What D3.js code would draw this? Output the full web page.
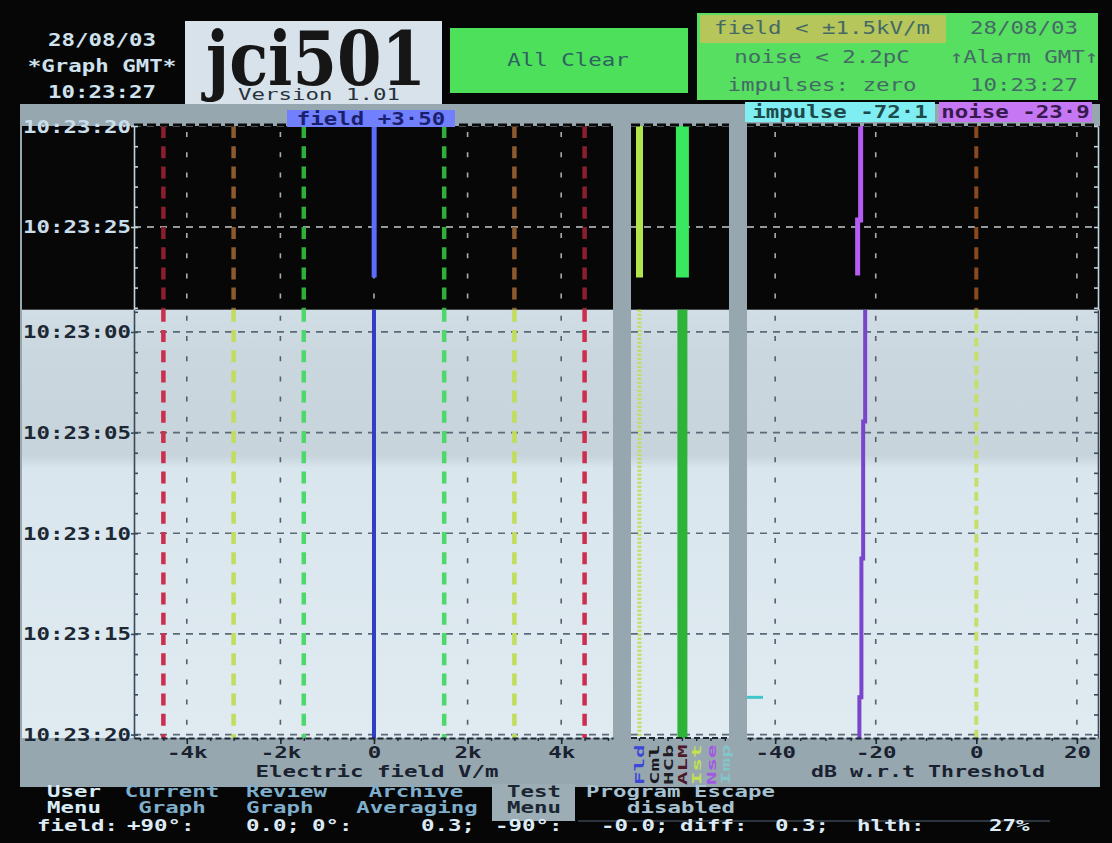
<!DOCTYPE html>
<html><head><meta charset="utf-8">
<script src="https://cdn.jsdelivr.net/npm/d3@7"></script>
<style>
html,body{margin:0;padding:0;background:#060606;}
svg{display:block}
text{white-space:pre}
</style></head><body>
<svg id="c" width="1112" height="843"></svg>
<script>
// ---------------- data ----------------
const graphDate = "28/08/03";
const graphTime = "10:23:27";
const fieldNow = 3.50;          // V/m
const impulseNow = -72.1;       // dB
const noiseNow = -23.9;         // dB
const fieldLimits = [1.5, 3.0, 4.5];            // kV/m threshold lines (±)
const fieldTicks = [-4, -2, 0, 2, 4];           // kV/m
const fieldTickLabels = ["-4k", "-2k", "0", "2k", "4k"];
const dbTicks = [-40, -20, 0, 20];
const dbThreshold = 0;
const timeTicksUpper = [20, 25];                 // seconds after 10:23:00
const timeLabelsUpper = ["10:23:20", "10:23:25"];
const timeTicksLower = [0, 5, 10, 15, 20];
const timeLabelsLower = ["10:23:00", "10:23:05", "10:23:10", "10:23:15", "10:23:20"];
const fieldUpper = [{t0: 20, t1: 27.5, v: 0.0035}];   // kV/m
const fieldLower = [{t0: -1.1, t1: 20.17, v: 0.0}];
const noiseUpper = [{t0: 20, t1: 24.65, v: -23.0}, {t0: 24.65, t1: 27.4, v: -23.6}];
const noiseLower = [{t0: -1.1, t1: 4.45, v: -22.1}, {t0: 4.45, t1: 11.25, v: -22.5},
                    {t0: 11.25, t1: 18.15, v: -22.85}, {t0: 18.15, t1: 20.17, v: -23.25}];
const impulseEvents = [{t: 18.15, v: -72.1}];
const statusCols = ["Fld", "Cml", "HCb", "ALM", "Ist", "Nse", "Imp"];
const statusColColors = ["#3b49d6", "#181820", "#1e1e26", "#4e1828", "#c2e052", "#a05ae0", "#7ad8da"];
const statusUpper = [{col: "Fld", t0: 20, t1: 27.5}, {col: "ALM", t0: 20, t1: 27.5}];
const statusLower = [{col: "Fld", t0: -1.1, t1: 20.17}, {col: "ALM", t0: -1.1, t1: 20.17}];
const headerLeft = [graphDate, "*Graph GMT*", graphTime];
const alarmCol1 = ["field < ±1.5kV/m", "noise < 2.2pC", "impulses: zero"];
const alarmCol2 = [graphDate, "↑Alarm GMT↑", graphTime];
const statusLine = [["field:", 37], ["+90°:", 127], ["0.0;", 246], ["0°:", 312], ["0.3;", 421],
                    ["-90°:", 495], ["-0.0;", 601], ["diff:", 680], ["0.3;", 775], ["hlth:", 857], ["27%", 989]];

// ---------------- helpers ----------------
const svg = d3.select("#c");
const CW = 13.5;
function mono(sel, str, x, y, o = {}) {
  const fs = o.fs || 18;
  const sx = (o.cw || CW) / (0.602 * fs);
  return sel.append("text")
    .attr("transform", `translate(${x},${y}) scale(${sx.toFixed(4)},1)`)
    .attr("text-anchor", o.anchor || "middle")
    .style("font-family", "'DejaVu Sans Mono', monospace")
    .attr("font-size", fs)
    .attr("font-weight", o.weight || "bold")
    .attr("fill", o.fill || "#d4e6f2")
    .text(str);
}
const dec = v => v.replace(".", "·");

// ---------------- scales ----------------
const yU = d3.scaleLinear().domain([20, 29.1]).range([126, 309.8]);
const yL = d3.scaleLinear().domain([-1.1, 20.17]).range([309.8, 738]);
const xL = d3.scaleLinear().domain([-5.128, 5.107]).range([134, 613]);
const xR = d3.scaleLinear().domain([-45.6, 24.2]).range([747, 1098]);
const xS = d3.scaleBand().domain(statusCols).range([632.35, 732.45]);
const bw = xS.bandwidth();

const defs = svg.append("defs");
const grad = defs.append("linearGradient").attr("id", "lowbg")
  .attr("gradientUnits", "userSpaceOnUse").attr("x1", 0).attr("y1", 310).attr("x2", 0).attr("y2", 738);
[[0, "#d2dee5"], [0.1, "#cbd7de"], [0.34, "#c8d4db"], [0.37, "#dae6ed"], [1, "#dfeaf1"]]
  .forEach(([o, c]) => grad.append("stop").attr("offset", o).attr("stop-color", c));

// ---------------- header ----------------
const hdr = svg.append("g");
headerLeft.forEach((s, i) => mono(hdr, s, 102, 45.5 + i * 26, {fill: "#cfe2ee"}));
hdr.append("rect").attr("x", 185).attr("y", 21).attr("width", 257).attr("height", 86).attr("fill", "#d7e2ea");
hdr.append("text").attr("x", 206).attr("y", 85)
  .style("font-family", "'DejaVu Serif', serif").attr("font-weight", "bold")
  .attr("font-size", 75).attr("textLength", 220).attr("lengthAdjust", "spacingAndGlyphs")
  .attr("fill", "#161616").text("jci501");
mono(hdr, "Version 1.01", 238, 100, {anchor: "start", fs: 16, weight: "normal", fill: "#28323c"});
hdr.append("rect").attr("x", 450).attr("y", 28).attr("width", 238).attr("height", 65).attr("fill", "#4de05a");
mono(hdr, "All Clear", 568, 66, {fill: "#2f6262", weight: "normal"});
hdr.append("rect").attr("x", 697).attr("y", 13).attr("width", 401).attr("height", 87).attr("fill", "#56df60");
hdr.append("rect").attr("x", 700).attr("y", 15).attr("width", 246).attr("height", 28).attr("fill", "#b6c65a");
alarmCol1.forEach((s, i) => mono(hdr, s, 822, 34 + i * 28.5, {fill: "#456a66", weight: "normal"}));
alarmCol2.forEach((s, i) => mono(hdr, s, 1024, 34 + i * 28.5, {fill: "#456a66", weight: "normal"}));

// ---------------- gray frame ----------------
svg.append("rect").attr("x", 20).attr("y", 104).attr("width", 1080).attr("height", 683).attr("fill", "#97a7b0");

// ---------------- panels ----------------
const panels = [
  {y: yU, ticks: timeTicksUpper, labels: timeLabelsUpper, bg: "#070707", grid: "#c2cad0", gridV: "#a9adb0",
   axis: "#c0d4e0", label: "#c9ddea", thr: ["#2fae3a", "#8c5a2c", "#8a1e2c"], thr0: "#8a4a1e", thr0dash: "12,8.2",
   field: "#5c6cff", fieldW: 5, noise: "#b45cf4", noiseW: 5, field2: fieldUpper, noiseD: noiseUpper, status: statusUpper,
   barFld: {c: "#b4e44c", w: 7, dash: null}, barAlm: {c: "#3ae860", w: 13}},
  {y: yL, ticks: timeTicksLower, labels: timeLabelsLower, bg: "url(#lowbg)", grid: "#5a6a78", gridV: "#56606c",
   axis: "#3a4a58", label: "#1c2834", thr: ["#4cd86a", "#c2dc5c", "#cc2e4e"], thr0: "#c6de6a", thr0dash: "9,5",
   field: "#2f3fc4", fieldW: 4, noise: "#7a44cc", noiseW: 4, field2: fieldLower, noiseD: noiseLower, status: statusLower,
   barFld: {c: "#c4da5a", w: 4, dash: "2,2"}, barAlm: {c: "#2eb238", w: 10}}
];

panels.forEach(p => {
  const y = p.y, [ya, yb] = y.range();
  const G = svg.append("g");
  G.append("rect").attr("x", 22).attr("y", ya).attr("width", 613 - 22).attr("height", yb - ya).attr("fill", p.bg);
  G.append("rect").attr("x", 631).attr("y", ya).attr("width", 729 - 631).attr("height", yb - ya).attr("fill", p.bg);
  G.append("rect").attr("x", 747).attr("y", ya).attr("width", 1100 - 747).attr("height", yb - ya).attr("fill", p.bg);

  // vertical gray grid
  G.selectAll(null).data(fieldTicks).join("line")
    .attr("x1", d => xL(d)).attr("x2", d => xL(d)).attr("y1", ya).attr("y2", yb)
    .attr("stroke", p.gridV).attr("stroke-width", 1.6).attr("stroke-dasharray", "5,15.2").attr("stroke-dashoffset", -6);
  G.selectAll(null).data(dbTicks.filter(d => d !== dbThreshold)).join("line")
    .attr("x1", d => xR(d)).attr("x2", d => xR(d)).attr("y1", ya).attr("y2", yb)
    .attr("stroke", p.gridV).attr("stroke-width", 1.6).attr("stroke-dasharray", "5,15.2").attr("stroke-dashoffset", -6);

  // horizontal dashed grid
  const spans = [[134, 613], [631, 729], [747, 1098]];
  p.ticks.forEach(t => {
    G.selectAll(null).data(spans).join("line")
      .attr("x1", d => d[0]).attr("x2", d => d[1]).attr("y1", y(t)).attr("y2", y(t))
      .attr("stroke", p.grid).attr("stroke-width", 1.7).attr("stroke-dasharray", "7,6");
  });

  // threshold lines
  const thrData = fieldLimits.flatMap((v, i) => [{v: -v, i}, {v: v, i}]);
  G.selectAll(null).data(thrData).join("line")
    .attr("x1", d => xL(d.v)).attr("x2", d => xL(d.v)).attr("y1", ya).attr("y2", yb)
    .attr("stroke", d => p.thr[d.i]).attr("stroke-width", 4.5).attr("stroke-dasharray", "12,8.2");
  G.append("line").attr("x1", xR(dbThreshold)).attr("x2", xR(dbThreshold)).attr("y1", ya).attr("y2", yb)
    .attr("stroke", p.thr0).attr("stroke-width", 4).attr("stroke-dasharray", p.thr0dash);

  // field line
  G.selectAll(null).data(p.field2).join("line")
    .attr("x1", d => xL(d.v)).attr("x2", d => xL(d.v)).attr("y1", d => y(d.t0)).attr("y2", d => y(d.t1))
    .attr("stroke", p.field).attr("stroke-width", p.fieldW);

  // noise line (stepped)
  const npts = p.noiseD.flatMap(d => [{t: d.t0, v: d.v}, {t: d.t1, v: d.v}]);
  G.append("path").attr("d", d3.line().x(d => xR(d.v)).y(d => y(d.t))(npts))
    .attr("fill", "none").attr("stroke", p.noise).attr("stroke-width", p.noiseW);

  // impulses (off-scale -> clamped at left edge)
  const dom = y.domain();
  G.selectAll(null).data(impulseEvents.filter(d => d.t >= dom[0] && d.t <= dom[1])).join("line")
    .attr("x1", xR.range()[0]).attr("x2", d => Math.max(xR(d.v), xR.range()[0]) + 16)
    .attr("y1", d => y(d.t)).attr("y2", d => y(d.t))
    .attr("stroke", "#3fc6c8").attr("stroke-width", 3);

  // status bars
  G.selectAll(null).data(p.status).join("line")
    .attr("x1", d => xS(d.col) + bw / 2).attr("x2", d => xS(d.col) + bw / 2)
    .attr("y1", d => y(d.t0)).attr("y2", d => y(d.t1))
    .attr("stroke", d => d.col === "ALM" ? p.barAlm.c : p.barFld.c)
    .attr("stroke-width", d => d.col === "ALM" ? p.barAlm.w : p.barFld.w)
    .attr("stroke-dasharray", d => d.col === "ALM" ? null : p.barFld.dash);

  // top edge of upper panel
  if (p === panels[0]) {
    G.selectAll(null).data(spans).join("line")
      .attr("x1", d => d[0]).attr("x2", d => d[1]).attr("y1", ya - 1).attr("y2", ya - 1)
      .attr("stroke", "#0a0a0a").attr("stroke-width", 3).attr("stroke-dasharray", "9,4");
  }

  // y axes
  const sec = d3.range(Math.ceil(dom[0]), dom[1] + 0.001, 1);
  const axA = G.append("g").attr("transform", "translate(134,0)")
    .call(d3.axisRight(y).tickValues(sec).tickSize(4).tickSizeOuter(0).tickFormat(""));
  axA.select(".domain").attr("stroke", p.axis).attr("stroke-width", 1.6);
  axA.selectAll(".tick line").attr("stroke", p.axis).attr("stroke-width", 1.6);
  const axB = G.append("g").attr("transform", "translate(134,0)")
    .call(d3.axisLeft(y).tickValues(p.ticks).tickSize(3).tickFormat(""));
  axB.select(".domain").remove();
  axB.selectAll(".tick line").attr("stroke", p.axis).attr("stroke-width", 1.6);
  const axC = G.append("g").attr("transform", "translate(1098,0)")
    .call(d3.axisLeft(y).tickValues(sec).tickSize(4).tickSizeOuter(0).tickFormat(""));
  axC.select(".domain").attr("stroke", p.axis).attr("stroke-width", 1.6);
  axC.selectAll(".tick line").attr("stroke", p.axis).attr("stroke-width", 1.6);

  p.ticks.forEach((t, i) => mono(G, p.labels[i], 131, y(t) + 6.5, {anchor: "end", fill: p.label}));
});

// ---------------- x axes ----------------
const axG = svg.append("g").attr("transform", "translate(0,738)");
function styleAx(g) {
  g.select(".domain").attr("stroke", "#1c2632").attr("stroke-width", 1.8).attr("stroke-dasharray", "6,3");
  g.selectAll(".tick line").attr("stroke", "#1c2632").attr("stroke-width", 1.6);
}
const tfs = 16;
const sxT = CW / (0.602 * tfs);
function styleLabels(g) {
  g.selectAll("text").attr("font-size", tfs).attr("font-weight", "bold").attr("fill", "#1a2230")
    .style("font-family", "'DejaVu Sans Mono', monospace").attr("y", 9).attr("transform", `scale(${sxT},1)`);
}
const aL = axG.append("g").call(d3.axisBottom(xL).tickValues(fieldTicks).tickSize(6).tickSizeOuter(0)
  .tickFormat((d, i) => fieldTickLabels[i]));
styleAx(aL); styleLabels(aL);
const aL2 = axG.append("g").call(d3.axisBottom(xL).tickValues(d3.range(-5, 5.01, 0.5)).tickSize(3).tickSizeOuter(0).tickFormat(""));
aL2.select(".domain").remove(); aL2.selectAll(".tick line").attr("stroke", "#1c2632").attr("stroke-width", 1.4);

const aR = axG.append("g").call(d3.axisBottom(xR).tickValues(dbTicks).tickSize(6).tickSizeOuter(0).tickFormat(d => String(d)));
styleAx(aR); styleLabels(aR);
const aR2 = axG.append("g").call(d3.axisBottom(xR).tickValues(d3.range(-45, 24, 5)).tickSize(3).tickSizeOuter(0).tickFormat(""));
aR2.select(".domain").remove(); aR2.selectAll(".tick line").attr("stroke", "#1c2632").attr("stroke-width", 1.4);

const aS = axG.append("g").call(d3.axisBottom(xS).tickSize(3).tickSizeOuter(0).tickFormat(""));
aS.select(".domain").remove();
aS.selectAll(".tick line").attr("stroke", "#1c2632").attr("stroke-width", 1.4);
axG.append("line").attr("x1", 631).attr("x2", 729).attr("y1", 0).attr("y2", 0)
  .attr("stroke", "#1c2632").attr("stroke-width", 1.8).attr("stroke-dasharray", "6,3");

const titles = svg.append("g");
mono(titles, "Electric field V/m", 377, 777, {fs: 16, fill: "#1a2230"});
mono(titles, "dB w.r.t Threshold", 928, 777, {fs: 16, cw: 13, fill: "#1a2230"});

// status column labels (rotated)
statusCols.forEach((c, i) => {
  const fs = 13, sx = CW / (0.602 * fs);
  titles.append("text")
    .attr("transform", `translate(${xS(c) + bw / 2 + 4.7},785) rotate(-90) scale(${sx.toFixed(4)},1)`)
    .style("font-family", "'DejaVu Sans Mono', monospace")
    .attr("font-size", fs).attr("font-weight", "bold").attr("fill", statusColColors[i])
    .attr("opacity", c === "Imp" ? 0.6 : 1).text(c);
});

// ---------------- top labels ----------------
const lab = svg.append("g");
lab.append("rect").attr("x", 287).attr("y", 110).attr("width", 168).attr("height", 17).attr("fill", "#7180ff");
mono(lab, "field " + dec("+" + fieldNow.toFixed(2)), 371, 124.5, {fill: "#1a1f6e"});
lab.append("rect").attr("x", 745).attr("y", 102).attr("width", 190).attr("height", 20).attr("fill", "#7eeef2");
mono(lab, "impulse " + dec(impulseNow.toFixed(1)), 840, 117.5, {fill: "#1e4a4c"});
lab.append("rect").attr("x", 939).attr("y", 102).attr("width", 153).attr("height", 20).attr("fill", "#c677f3");
mono(lab, "noise " + dec(noiseNow.toFixed(1)), 1015.5, 117.5, {fill: "#381a4e"});

// ---------------- menu ----------------
const menu = svg.append("g");
menu.append("rect").attr("x", 492).attr("y", 784).attr("width", 83).attr("height", 37).attr("fill", "#9cadb6");
menu.append("line").attr("x1", 578).attr("x2", 1050).attr("y1", 821).attr("y2", 821).attr("stroke", "#3a4650").attr("stroke-width", 1.5);
const mo = {fs: 15};
mono(menu, "User", 47, 797, {...mo, anchor: "start", fill: "#d8ecf8"});
mono(menu, "Menu", 47, 812.5, {...mo, anchor: "start", fill: "#d8ecf8"});
mono(menu, "Current", 172, 797, {...mo, fill: "#7eaecb"});
mono(menu, "Graph", 172, 812.5, {...mo, fill: "#7eaecb"});
mono(menu, "Review", 246, 797, {...mo, anchor: "start", fill: "#7eaecb"});
mono(menu, "Graph", 246, 812.5, {...mo, anchor: "start", fill: "#7eaecb"});
mono(menu, "Archive", 416, 797, {...mo, fill: "#7eaecb"});
mono(menu, "Averaging", 417, 812.5, {...mo, fill: "#7eaecb"});
mono(menu, "Test", 507, 797, {...mo, anchor: "start", fill: "#1a2630"});
mono(menu, "Menu", 507, 812.5, {...mo, anchor: "start", fill: "#1a2630"});
mono(menu, "Program Escape", 586, 797, {...mo, anchor: "start", fill: "#a6c2d2"});
mono(menu, "disabled", 627, 812.5, {...mo, anchor: "start", fill: "#a6c2d2"});
statusLine.forEach(([s, x]) => mono(menu, s, x, 831, {...mo, anchor: "start", fill: "#dcebf5"}));
</script>
</body></html>
